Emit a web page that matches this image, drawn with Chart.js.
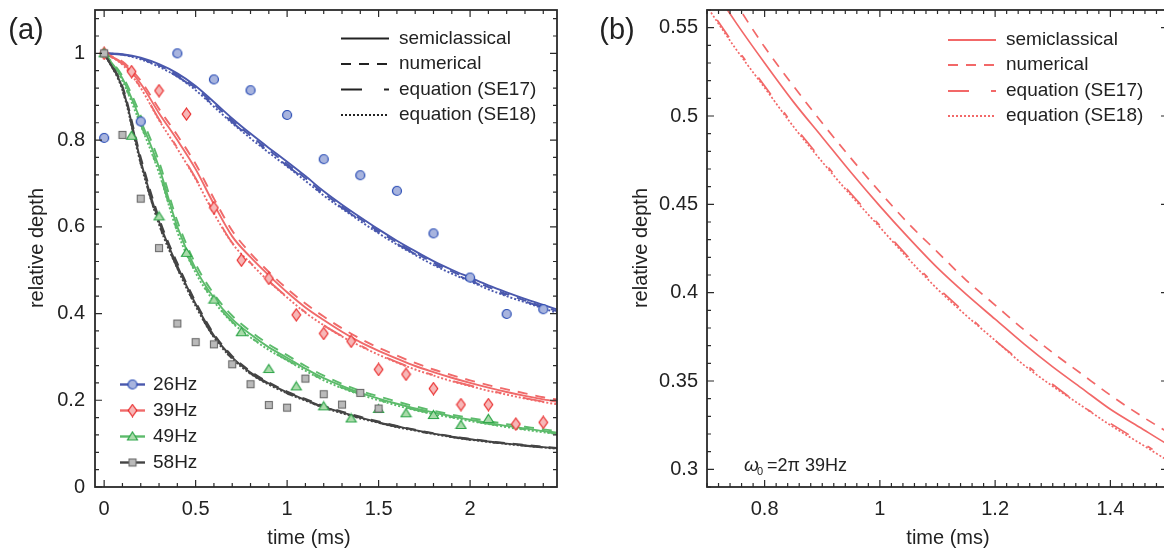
<!DOCTYPE html>
<html><head><meta charset="utf-8">
<script src="https://cdn.jsdelivr.net/npm/chart.js@4/dist/chart.umd.min.js"></script>
<style>
html,body{margin:0;padding:0;background:#fff;overflow:hidden;width:1164px;height:550px;position:relative;}
#wa{position:absolute;left:0;top:0;width:580px;height:550px;}
#wb{position:absolute;left:580px;top:0;width:600px;height:550px;}
canvas{display:block;}
</style></head><body>
<div id="wa"><canvas id="ca" width="580" height="550"></canvas></div>
<div id="wb"><canvas id="cb" width="600" height="550"></canvas></div>
<script>
// ---------- panel (a) data ----------
const timeGrid = [0,0.1,0.2,0.3,0.4,0.5,0.6,0.7,0.8,0.9,1.0,1.1,1.2,1.3,1.4,1.5,1.6,1.7,1.8,1.9,2.0,2.1,2.2,2.3,2.4,2.5];

const blueSemi = [1.0,0.998,0.990,0.975,0.954,0.925,0.888,0.850,0.815,0.782,0.750,0.717,0.682,0.651,0.622,0.594,0.568,0.544,0.521,0.501,0.483,0.465,0.449,0.434,0.420,0.406];
const blueNum  = [1.0,0.997,0.988,0.972,0.950,0.920,0.883,0.845,0.810,0.777,0.745,0.712,0.677,0.647,0.618,0.590,0.564,0.540,0.517,0.497,0.479,0.461,0.445,0.430,0.416,0.402];
const blueSE17 = [1.0,0.997,0.987,0.970,0.947,0.917,0.879,0.841,0.806,0.773,0.741,0.708,0.674,0.644,0.615,0.587,0.561,0.537,0.514,0.494,0.476,0.458,0.442,0.428,0.414,0.400];
const blueSE18 = [1.0,0.997,0.986,0.969,0.946,0.915,0.877,0.839,0.804,0.771,0.739,0.706,0.672,0.642,0.613,0.585,0.559,0.535,0.512,0.492,0.474,0.456,0.440,0.426,0.412,0.398];

const redSemi = [1.0,0.978,0.930,0.862,0.800,0.733,0.652,0.578,0.530,0.488,0.449,0.414,0.385,0.358,0.334,0.314,0.296,0.279,0.265,0.252,0.240,0.229,0.219,0.210,0.202,0.195];
const redNum  = [1.0,0.981,0.937,0.872,0.811,0.745,0.665,0.591,0.539,0.496,0.457,0.423,0.393,0.366,0.342,0.321,0.303,0.286,0.271,0.258,0.246,0.235,0.225,0.216,0.207,0.200];
const redSE17 = [1.0,0.975,0.921,0.848,0.782,0.712,0.633,0.563,0.517,0.475,0.438,0.403,0.373,0.348,0.326,0.306,0.288,0.272,0.258,0.245,0.234,0.223,0.214,0.205,0.197,0.190];
const redSE18 = [1.0,0.974,0.920,0.846,0.780,0.710,0.631,0.562,0.516,0.474,0.437,0.402,0.373,0.347,0.325,0.305,0.287,0.271,0.257,0.244,0.233,0.222,0.213,0.204,0.196,0.189];

const greenSemi = [1.0,0.942,0.845,0.737,0.600,0.503,0.436,0.387,0.352,0.322,0.298,0.273,0.251,0.233,0.217,0.204,0.192,0.181,0.172,0.163,0.155,0.148,0.141,0.135,0.129,0.124];
const greenNum  = [1.0,0.948,0.856,0.750,0.613,0.514,0.445,0.395,0.359,0.329,0.304,0.279,0.257,0.238,0.222,0.209,0.197,0.186,0.176,0.167,0.159,0.152,0.145,0.139,0.133,0.128];
const greenSE17 = [1.0,0.937,0.836,0.726,0.590,0.496,0.430,0.381,0.346,0.317,0.293,0.269,0.247,0.229,0.214,0.201,0.189,0.178,0.169,0.161,0.153,0.146,0.139,0.133,0.127,0.122];
const greenSE18 = [1.0,0.936,0.834,0.724,0.588,0.494,0.428,0.379,0.345,0.316,0.292,0.268,0.246,0.228,0.213,0.200,0.188,0.177,0.168,0.160,0.152,0.145,0.138,0.132,0.126,0.121];

const graySemi = [1.0,0.920,0.752,0.612,0.510,0.422,0.349,0.299,0.264,0.239,0.218,0.201,0.185,0.172,0.160,0.149,0.140,0.131,0.123,0.116,0.110,0.105,0.100,0.096,0.092,0.088];
const grayNum  = [1.0,0.924,0.760,0.620,0.516,0.427,0.353,0.302,0.267,0.241,0.220,0.203,0.187,0.174,0.162,0.151,0.141,0.132,0.124,0.117,0.111,0.106,0.101,0.097,0.093,0.089];
const graySE17 = [1.0,0.916,0.746,0.606,0.505,0.418,0.346,0.296,0.262,0.237,0.216,0.199,0.184,0.171,0.159,0.148,0.139,0.130,0.122,0.115,0.109,0.104,0.099,0.095,0.091,0.087];
const graySE18 = [1.0,0.915,0.745,0.605,0.504,0.417,0.345,0.296,0.261,0.236,0.216,0.199,0.183,0.170,0.158,0.148,0.138,0.130,0.122,0.115,0.109,0.104,0.099,0.095,0.091,0.087];

// measured points
const t26 = [0,0.2,0.4,0.6,0.8,1.0,1.2,1.4,1.6,1.8,2.0,2.2,2.4];
const d26 = [0.805,0.843,1.0,0.940,0.915,0.858,0.756,0.719,0.683,0.585,0.483,0.399,0.410];
const t39 = [0,0.15,0.3,0.45,0.6,0.75,0.9,1.05,1.2,1.35,1.5,1.65,1.8,1.95,2.1,2.25,2.4];
const d39 = [1.0,0.958,0.914,0.860,0.644,0.523,0.481,0.397,0.354,0.336,0.271,0.260,0.227,0.190,0.190,0.145,0.149];
const t49 = [0,0.15,0.3,0.45,0.6,0.75,0.9,1.05,1.2,1.35,1.5,1.65,1.8,1.95,2.1];
const d49 = [1.0,0.810,0.624,0.540,0.432,0.357,0.272,0.232,0.186,0.158,0.180,0.170,0.166,0.143,0.157];
const t58 = [0,0.1,0.2,0.3,0.4,0.5,0.6,0.7,0.8,0.9,1.0,1.1,1.2,1.3,1.4,1.5];
const d58 = [1.0,0.812,0.665,0.551,0.377,0.334,0.329,0.283,0.237,0.189,0.183,0.250,0.214,0.190,0.217,0.181];

const freqLabels = ['26Hz','39Hz','49Hz','58Hz'];
const styleLabels = ['semiclassical','numerical','equation (SE17)','equation (SE18)'];

// ---------- panel (b) data (39 Hz, zoom) ----------
const timeB = [0.65,0.7,0.75,0.8,0.85,0.9,0.95,1.0,1.05,1.1,1.15,1.2,1.25,1.3,1.35,1.4,1.45,1.5,1.55];
const bSemi = [0.606,0.578,0.553,0.530,0.508,0.488,0.468,0.449,0.431,0.414,0.399,0.385,0.371,0.358,0.346,0.334,0.324,0.314,0.305];
const bNum  = [0.619,0.591,0.564,0.539,0.517,0.496,0.476,0.457,0.439,0.423,0.407,0.393,0.379,0.366,0.354,0.342,0.331,0.321,0.312];
const bSE17 = [0.588,0.563,0.539,0.517,0.495,0.475,0.456,0.438,0.420,0.403,0.388,0.373,0.360,0.348,0.336,0.326,0.316,0.306,0.297];
const bSE18 = [0.587,0.562,0.538,0.516,0.494,0.474,0.455,0.437,0.419,0.402,0.387,0.373,0.359,0.347,0.336,0.325,0.315,0.305,0.296];

// tick labels
const xTicksA = [0,0.5,1,1.5,2];
const yTicksA = [0,0.2,0.4,0.6,0.8,1];
const xTicksB = [0.8,1,1.2,1.4];
const yTicksB = [0.3,0.35,0.4,0.45,0.5,0.55];

// ---------- styling ----------
const FONT = "'Liberation Sans', Arial, Helvetica, sans-serif";
Chart.defaults.font.family = FONT;
const TXT = '#222';
const DASH = [[], [10,8], [21,22,6,22], [2,2]];
const COL = {
  blue:  {line:'#4a58ad', fill:'#a8b4de', edge:'#2a4db5'},
  red:   {line:'#f06a6a', fill:'#f7b7b7', edge:'#e92a2a'},
  green: {line:'#5cbb6b', fill:'#aadbaa', edge:'#2fa64a'},
  gray:  {line:'#444444', fill:'#bababa', edge:'#6b6b6b'}
};
const RED_B = '#f26868';

function mk(w,h,draw){const c=document.createElement('canvas');c.width=w;c.height=h;const g=c.getContext('2d');draw(g);return c;}
const imgCircle = mk(12,12,g=>{g.beginPath();g.arc(6,6,4.5,0,Math.PI*2);g.fillStyle=COL.blue.fill;g.fill();g.lineWidth=1.2;g.strokeStyle=COL.blue.edge;g.stroke();});
const imgDiamond = mk(11,14,g=>{g.beginPath();g.moveTo(5.5,1);g.lineTo(9.8,7);g.lineTo(5.5,13);g.lineTo(1.2,7);g.closePath();g.fillStyle=COL.red.fill;g.fill();g.lineWidth=1.2;g.strokeStyle=COL.red.edge;g.stroke();});
const imgTri = mk(13,12,g=>{g.beginPath();g.moveTo(6.5,1.5);g.lineTo(11.5,9.5);g.lineTo(1.5,9.5);g.closePath();g.fillStyle=COL.green.fill;g.fill();g.lineWidth=1.2;g.strokeStyle=COL.green.edge;g.stroke();});
const imgSq = mk(10,10,g=>{g.fillStyle=COL.gray.fill;g.fillRect(1.5,1.5,7,7);g.lineWidth=1.1;g.strokeStyle=COL.gray.edge;g.strokeRect(1.5,1.5,7,7);});

function pts(xs, ys){ return xs.map((x,i)=>({x:x, y:ys[i]})); }
function curve(xs, ys, color, dash, w){
  return {data:pts(xs,ys), showLine:true, borderColor:color, borderWidth:w, borderDash:dash,
    pointRadius:0, pointHoverRadius:0, fill:false, cubicInterpolationMode:'monotone', order:2};
}
function marks(xs, ys, img){
  return {data:pts(xs,ys), showLine:false, pointStyle:img, pointRadius:5, pointHoverRadius:5, order:1};
}

function minorVals(min,max,step){const out=[];for(let k=Math.ceil(min/step-1e-9);k*step<=max+1e-9;k++){out.push(+(k*step).toFixed(6));}return out;}

function drawFrame(chart, o){
  const {ctx, chartArea:{left,right,top,bottom}} = chart;
  const xs = chart.scales.x, ys = chart.scales.y;
  ctx.save();
  ctx.strokeStyle = '#2a2a2a';
  ctx.lineWidth = 1.2;
  ctx.beginPath();
  const xm = minorVals(xs.min, xs.max, o.xMinor), ym = minorVals(ys.min, ys.max, o.yMinor);
  const xM = xs.ticks.map(t=>t.value), yM = ys.ticks.map(t=>t.value);
  xm.forEach(v=>{const p=xs.getPixelForValue(v);const L=xM.some(m=>Math.abs(m-v)<1e-6)?7:4;
    ctx.moveTo(p,bottom);ctx.lineTo(p,bottom-L);ctx.moveTo(p,top);ctx.lineTo(p,top+L);});
  ym.forEach(v=>{const p=ys.getPixelForValue(v);const L=yM.some(m=>Math.abs(m-v)<1e-6)?7:4;
    ctx.moveTo(left,p);ctx.lineTo(left+L,p);ctx.moveTo(right,p);ctx.lineTo(right-L,p);});
  ctx.stroke();
  ctx.lineWidth = 1.8;
  ctx.strokeRect(left, top, right-left, bottom-top);
  ctx.restore();
}

function text(ctx, s, x, y, size, align, opts){
  ctx.save();
  ctx.font = (opts&&opts.italic?'italic ':'') + size + 'px ' + FONT;
  ctx.fillStyle = TXT; ctx.textAlign = align||'left'; ctx.textBaseline = 'middle';
  if (opts && opts.rot){ ctx.translate(x,y); ctx.rotate(-Math.PI/2); ctx.fillText(s,0,0); }
  else ctx.fillText(s,x,y);
  ctx.restore();
}
function sample(ctx, x0, x1, y, color, dash, w){
  ctx.save(); ctx.strokeStyle=color; ctx.lineWidth=w; ctx.setLineDash(dash); ctx.beginPath();
  ctx.moveTo(x0,y); ctx.lineTo(x1,y); ctx.stroke(); ctx.restore();
}

function scaleCfg(min,max,ticksArr,isX,fit,pad){
  return {type:'linear', min:min, max:max,
    afterBuildTicks: s => { s.ticks = ticksArr.map(v=>({value:v})); },
    afterFit: s => { if(isX) s.height = fit; else s.width = fit;
      s.paddingTop = 0; s.paddingBottom = 0; s.paddingLeft = 0; s.paddingRight = 0; },
    grid:{display:false, drawTicks:false}, border:{display:false},
    ticks:{padding:pad, color:TXT, font:{size:20, family:FONT}, maxRotation:0, autoSkip:false,
      callback: v => String(+(+v).toFixed(3))}};
}

// ---------- chart (a) ----------
const dsA = [
  marks(t58,d58,imgSq), marks(t49,d49,imgTri), marks(t39,d39,imgDiamond), marks(t26,d26,imgCircle)
];
[[COL.gray.line,[graySemi,grayNum,graySE17,graySE18]],
 [COL.green.line,[greenSemi,greenNum,greenSE17,greenSE18]],
 [COL.red.line,[redSemi,redNum,redSE17,redSE18]],
 [COL.blue.line,[blueSemi,blueNum,blueSE17,blueSE18]]].forEach(([c,arrs])=>{
  arrs.forEach((a,i)=>dsA.push(curve(timeGrid,a,c,DASH[i],1.9)));
});

const decoA = {id:'decoA', afterDraw(chart){
  const ctx = chart.ctx;
  drawFrame(chart,{xMinor:0.1,yMinor:0.04});
  text(ctx,'(a)',26,31,29,'center');
  text(ctx,'relative depth',37,248,20,'center',{rot:true});
  text(ctx,'time (ms)',309,538,20,'center');
  const rows=[38.5,64,89.5,115];
  styleLabels.forEach((s,i)=>{ sample(ctx,341,389,rows[i],'#222',DASH[i],2.2); text(ctx,s,399,rows[i],19,'left'); });
  const imgs=[imgCircle,imgDiamond,imgTri,imgSq], cols=[COL.blue.line,COL.red.line,COL.green.line,COL.gray.line];
  const rows2=[384.5,410.5,436.5,462.5];
  freqLabels.forEach((s,i)=>{ sample(ctx,120,145,rows2[i],cols[i],[],2.4);
    ctx.drawImage(imgs[i],132.5-imgs[i].width/2,rows2[i]-imgs[i].height/2);
    text(ctx,s,153,rows2[i],19,'left'); });
}};

new Chart(document.getElementById('ca'), {
  type:'scatter',
  data:{datasets:dsA},
  options:{responsive:false, animation:false, devicePixelRatio:1,
    layout:{padding:{left:0,right:23,top:10,bottom:0}},
    plugins:{legend:{display:false}, tooltip:{enabled:false}},
    scales:{ x: scaleCfg(-0.05,2.475,xTicksA,true,63,10), y: scaleCfg(0,1.1,yTicksA,false,95,10) }
  },
  plugins:[decoA]
});

// ---------- chart (b) ----------
const dsB = [bSemi,bNum,bSE17,bSE18].map((a,i)=>curve(timeB,a,RED_B,DASH[i],1.7));
const decoB = {id:'decoB', afterDraw(chart){
  const ctx = chart.ctx;
  drawFrame(chart,{xMinor:0.02,yMinor:0.01});
  text(ctx,'(b)',37,31,29,'center');
  text(ctx,'relative depth',61,248,20,'center',{rot:true});
  text(ctx,'time (ms)',368,538,20,'center');
  const rows=[40,65,91,116];
  styleLabels.forEach((s,i)=>{ sample(ctx,368,416,rows[i],RED_B,DASH[i],2); text(ctx,s,426,rows[i],19,'left'); });
  // omega annotation
  ctx.save(); ctx.fillStyle=TXT; ctx.textBaseline='alphabetic';
  ctx.font='italic 19px '+FONT; ctx.fillText('ω',164,471);
  ctx.font='11px '+FONT; ctx.fillText('0',177,475);
  ctx.font='18px '+FONT; ctx.fillText('=2π 39Hz',187,471);
  ctx.restore();
}};

new Chart(document.getElementById('cb'), {
  type:'scatter',
  data:{datasets:dsB},
  options:{responsive:false, animation:false, devicePixelRatio:1,
    layout:{padding:{left:0,right:12,top:10,bottom:0}},
    plugins:{legend:{display:false}, tooltip:{enabled:false}},
    scales:{ x: scaleCfg(0.7,1.5,xTicksB,true,63,10), y: scaleCfg(0.29,0.56,yTicksB,false,127,9) }
  },
  plugins:[decoB]
});
</script>
</body></html>
